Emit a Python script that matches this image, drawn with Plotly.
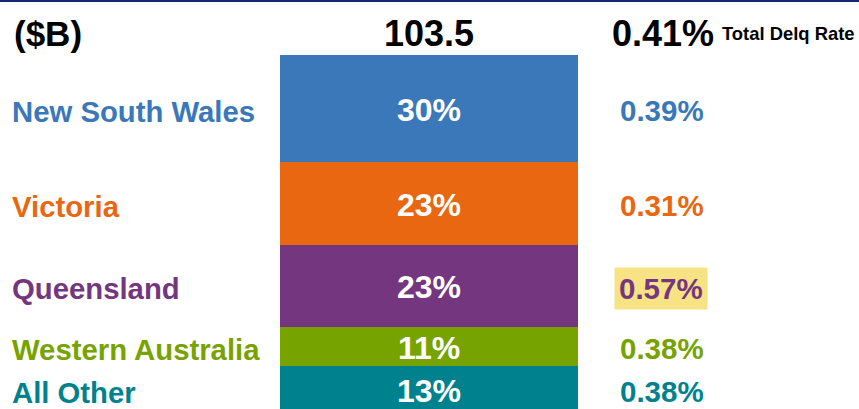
import plotly.graph_objects as go

# Portfolio mix by state and delinquency rates
regions = ["New South Wales", "Victoria", "Queensland", "Western Australia", "All Other"]
shares = [30, 23, 23, 11, 13]
delq_rates = ["0.39%", "0.31%", "0.57%", "0.38%", "0.38%"]
colors = ["#3a78ba", "#e86710", "#74367f", "#77a300", "#00828e"]
total_balance = "103.5"
total_delq = "0.41%"
unit_label = "($B)"
highlight = "Queensland"

W, H = 859, 409
TOP = 55
PLOT_H = H - TOP
FONT = "Liberation Sans, Arial, Helvetica, sans-serif"

fig = go.Figure()
for name, val, col in zip(regions, shares, colors):
    fig.add_trace(go.Bar(
        x=[0], y=[val], name=name, marker=dict(color=col, line=dict(width=0)),
        width=1, hoverinfo="skip", showlegend=False,
    ))

fig.update_layout(
    barmode="stack",
    width=W, height=H,
    margin=dict(l=0, r=0, t=TOP, b=0, pad=0),
    paper_bgcolor="white", plot_bgcolor="white",
    xaxis=dict(range=[-0.5 - 280 / 298, 0.5 + (W - 578) / 298], visible=False, fixedrange=True),
    yaxis=dict(range=[98.9, 0], visible=False, fixedrange=True),
    font=dict(family=FONT),
)

# segment labels
cum = 0
for name, val, col, rate in zip(regions, shares, colors, delq_rates):
    mid = cum + val / 2
    cum += val
    fig.add_annotation(x=0, y=mid, xref="x", yref="y", text=f"{val}%", showarrow=False,
                       yshift=-1,
                       font=dict(size=32, color="white", family=FONT, weight="bold"))
    fig.add_annotation(x=10 / W, y=mid, xref="paper", yref="y", text=name, showarrow=False,
                       xanchor="left", yshift=-3,
                       font=dict(size=29.3, color=col, family=FONT, weight="bold"))
    if name == highlight:
        fig.add_annotation(x=614 / W, y=mid, xref="paper", yref="y", text=rate, showarrow=False,
                           xanchor="left", bgcolor="#f7e383", borderpad=4, yshift=-3,
                           font=dict(size=29.5, color=col, family=FONT, weight="bold"))
    else:
        fig.add_annotation(x=618 / W, y=mid, xref="paper", yref="y", text=rate, showarrow=False,
                           xanchor="left", yshift=-2,
                           font=dict(size=29.5, color=col, family=FONT, weight="bold"))

# header row (paper y above 1 sits in the top margin)
def top_px(py):
    return 1 + (TOP - py) / PLOT_H

hy = top_px(33)
fig.add_annotation(x=12 / W, y=hy, xref="paper", yref="paper", yanchor="middle", text=unit_label,
                   showarrow=False, xanchor="left",
                   font=dict(size=35, color="black", family=FONT, weight="bold"))
fig.add_annotation(x=429 / W, y=hy, xref="paper", yref="paper", yanchor="middle", text=total_balance,
                   showarrow=False, xanchor="center",
                   font=dict(size=36, color="black", family=FONT, weight="bold"))
fig.add_annotation(x=610 / W, y=hy, xref="paper", yref="paper", yanchor="middle", text=total_delq,
                   showarrow=False, xanchor="left",
                   font=dict(size=36, color="black", family=FONT, weight="bold"))
fig.add_annotation(x=720 / W, y=hy, xref="paper", yref="paper", yanchor="middle", text="Total Delq Rate",
                   showarrow=False, xanchor="left",
                   font=dict(size=18.4, color="black", family=FONT, weight="bold"))

# top rule
fig.add_shape(type="rect", xref="paper", yref="paper", x0=0, x1=1, y0=top_px(2), y1=top_px(0),
              fillcolor="#14286e", line=dict(width=0))

fig.write_html("out.html")
